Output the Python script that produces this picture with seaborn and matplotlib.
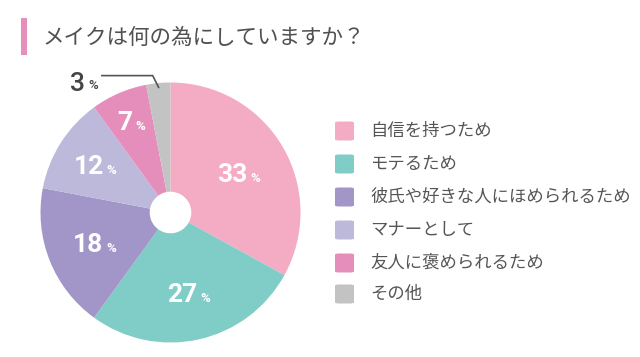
import numpy as np
import matplotlib
matplotlib.use("Agg")
import matplotlib.pyplot as plt
import seaborn as sns
from matplotlib.patches import FancyBboxPatch, Rectangle

categories = ["自信を持つため", "モテるため", "彼氏や好きな人にほめられるため",
              "マナーとして", "友人に褒められるため", "その他"]
values = [33, 27, 18, 12, 7, 3]
colors = ["#F4ABC4", "#80CCC6", "#A196C7", "#BDB9DB", "#E68EBB", "#C3C3C3"]
title = "メイクは何の為にしていますか？"

# label placement (fraction of radius) for inside labels
label_r = [0.61, 0.63, 0.63, 0.69, 0.77]

sns.set_theme(style="white")
plt.rcParams['font.family'] = ['Noto Sans CJK JP', 'DejaVu Sans']
palette = sns.color_palette(colors)

W, H = 640, 357
PT = 72 / 100  # px -> points
fig = plt.figure(figsize=(6.4, 3.57), dpi=100)
fig.patch.set_facecolor("white")

# pie axes: center (170.5, 212.5) px, radius 130 px
cx, cy, R = 170.5, 212.5, 130
ax = fig.add_axes([(cx - R) / W, (H - cy - R) / H, 2 * R / W, 2 * R / H])
wedges, _ = ax.pie(values, colors=palette, startangle=90, counterclock=False,
                   radius=1.0, wedgeprops=dict(width=0.84, linewidth=0))
ax.set_xlim(-1, 1)
ax.set_ylim(-1, 1)
ax.set_aspect("equal")
ax.axis("off")

num_font = ['Roboto', 'DejaVu Sans']
DIGIT_W, PCT_W, GAP, CAP = 15.5, 10, 3, 19


def put_label(x, y, v, color):
    wd = DIGIT_W * len(str(v))
    total = wd + GAP + PCT_W
    left = -total / 2
    ax.annotate(f"{v}", xy=(x, y), xytext=((left + wd) * PT, -CAP / 2 * PT),
                textcoords="offset points", ha="right", va="baseline",
                fontsize=19, color=color, family=num_font, fontweight="bold",
                annotation_clip=False)
    ax.annotate("%", xy=(x, y), xytext=((left + wd + GAP) * PT, -CAP / 2 * PT),
                textcoords="offset points", ha="left", va="baseline",
                fontsize=9.5, color=color, family=num_font, fontweight="bold",
                annotation_clip=False)


k = 0
for w, v in zip(wedges, values):
    ang = np.deg2rad((w.theta1 + w.theta2) / 2)
    if v < 5:
        # outside label with leader line
        x0, y0 = 0.965 * np.cos(ang), 0.965 * np.sin(ang)
        xk, yk = x0 - 6 / R, y0 + 12 / R
        xe = xk - 51 / R
        ax.plot([x0, xk, xe], [y0, yk, yk], color="#555555", lw=1.2,
                clip_on=False, solid_joinstyle="miter")
        ax.annotate(f"{v}", xy=(xe, yk), xytext=(-17 * PT, -15 * PT),
                    textcoords="offset points", ha="right", va="baseline",
                    fontsize=19, color="#444444", family=num_font,
                    fontweight="medium", annotation_clip=False)
        ax.annotate("%", xy=(xe, yk), xytext=(-4 * PT, -13 * PT),
                    textcoords="offset points", ha="right", va="baseline",
                    fontsize=9.5, color="#444444", family=num_font,
                    fontweight="medium", annotation_clip=False)
        continue
    r = label_r[k]
    k += 1
    put_label(r * np.cos(ang), r * np.sin(ang), v, "white")

# title with pink bar
fig.add_artist(Rectangle((21 / W, 1 - 55 / H), 6 / W, 37 / H,
                         transform=fig.transFigure, color="#E590BC", lw=0))
fig.text(43 / W, 1 - 38 / H, title, ha="left", va="center", fontsize=15.5,
         color="#505050")

# legend
row_y = [131, 164, 197, 230, 263, 294]
for c, lab, yy in zip(palette, categories, row_y):
    fig.add_artist(FancyBboxPatch((335 / W, 1 - (yy + 9.5) / H), 19 / W, 19 / H,
                                  boxstyle="round,pad=0,rounding_size=0.006",
                                  transform=fig.transFigure, color=c, lw=0,
                                  mutation_aspect=H / W))
    fig.text(370 / W, 1 - yy / H, lab, ha="left", va="center", fontsize=12.5,
             color="#555555")

fig.savefig("out.png", dpi=100, facecolor="white")
